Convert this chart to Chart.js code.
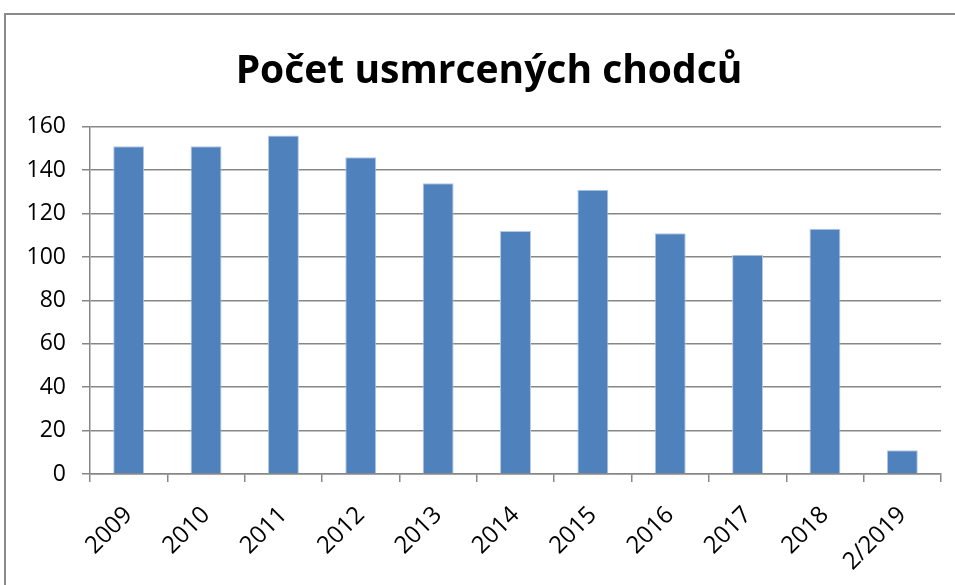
<!DOCTYPE html>
<html>
<head>
<meta charset="utf-8">
<script src="https://cdn.jsdelivr.net/npm/chart.js@4.4.1/dist/chart.umd.min.js"></script>
<style>
    html, body { margin: 0; padding: 0; background: #fff; overflow: hidden; }
    #ramec {
        position: absolute; left: 4px; top: 13px;
        width: 1000px; height: 700px;
        border: 2px solid #8a8a8a; box-sizing: border-box;
    }
    #obal {
        position: absolute; left: 4px; top: 14px;
        width: 970px; height: 600px;
    }
</style>
</head>
<body>
<div id="ramec"></div>
<div id="obal"><canvas id="graf"></canvas></div>

<script>
/* ===== data ===== */
const roky = ["2009", "2010", "2011", "2012", "2013", "2014",
              "2015", "2016", "2017", "2018", "2/2019"];

const usmrceni = [151, 151, 156, 146, 134, 112, 131, 111, 101, 113, 11];

const osaY = { min: 0, max: 160, krok: 20 };

const nadpis = "Počet usmrcených chodců";

/* ===== graf ===== */
const sedaCara = "#878787";

new Chart(document.getElementById("graf"), {
    type: "bar",
    data: {
        labels: roky,
        datasets: [{
            data: usmrceni,
            backgroundColor: "#4f81bd",
            borderColor: "#b4c9e6",
            borderWidth: 1,
            barPercentage: 0.4,
            categoryPercentage: 1
        }]
    },
    options: {
        responsive: true,
        maintainAspectRatio: false,
        animation: false,
        layout: { padding: 0 },
        plugins: {
            legend: { display: false },
            tooltip: { enabled: false },
            title: {
                display: true,
                text: nadpis,
                color: "#000",
                font: { family: "'Open Sans'", size: 39, weight: "bold", lineHeight: 1.2 },
                padding: { top: 34, bottom: 32 }
            }
        },
        scales: {
            x: {
                offset: true,
                grid: {
                    offset: true,
                    drawOnChartArea: false,
                    drawTicks: true,
                    tickLength: 8,
                    color: sedaCara,
                    lineWidth: 1.5
                },
                border: { color: sedaCara, width: 1.5 },
                ticks: {
                    color: "#000",
                    font: { family: "'Open Sans'", size: 24 },
                    maxRotation: 45,
                    minRotation: 45,
                    padding: 19,
                    labelOffset: 0
                },
                afterFit(s) { s.height = 140; }
            },
            y: {
                min: osaY.min,
                max: osaY.max,
                ticks: {
                    stepSize: osaY.krok,
                    color: "#000",
                    font: { family: "'Open Sans'", size: 23 },
                    padding: 16
                },
                grid: {
                    color: sedaCara,
                    lineWidth: 1.5,
                    tickLength: 8
                },
                border: { color: sedaCara, width: 1.5 },
                afterFit(s) { s.width = 86; }
            },
            // prazdna osa vpravo jen jako okraj, nadpis pak sedi na stred ramecku
            okraj: {
                position: "right",
                display: true,
                ticks: { display: false },
                grid: { display: false },
                border: { display: false },
                afterFit(s) { s.width = 33; }
            }
        }
    }
});
</script>
</body>
</html>
